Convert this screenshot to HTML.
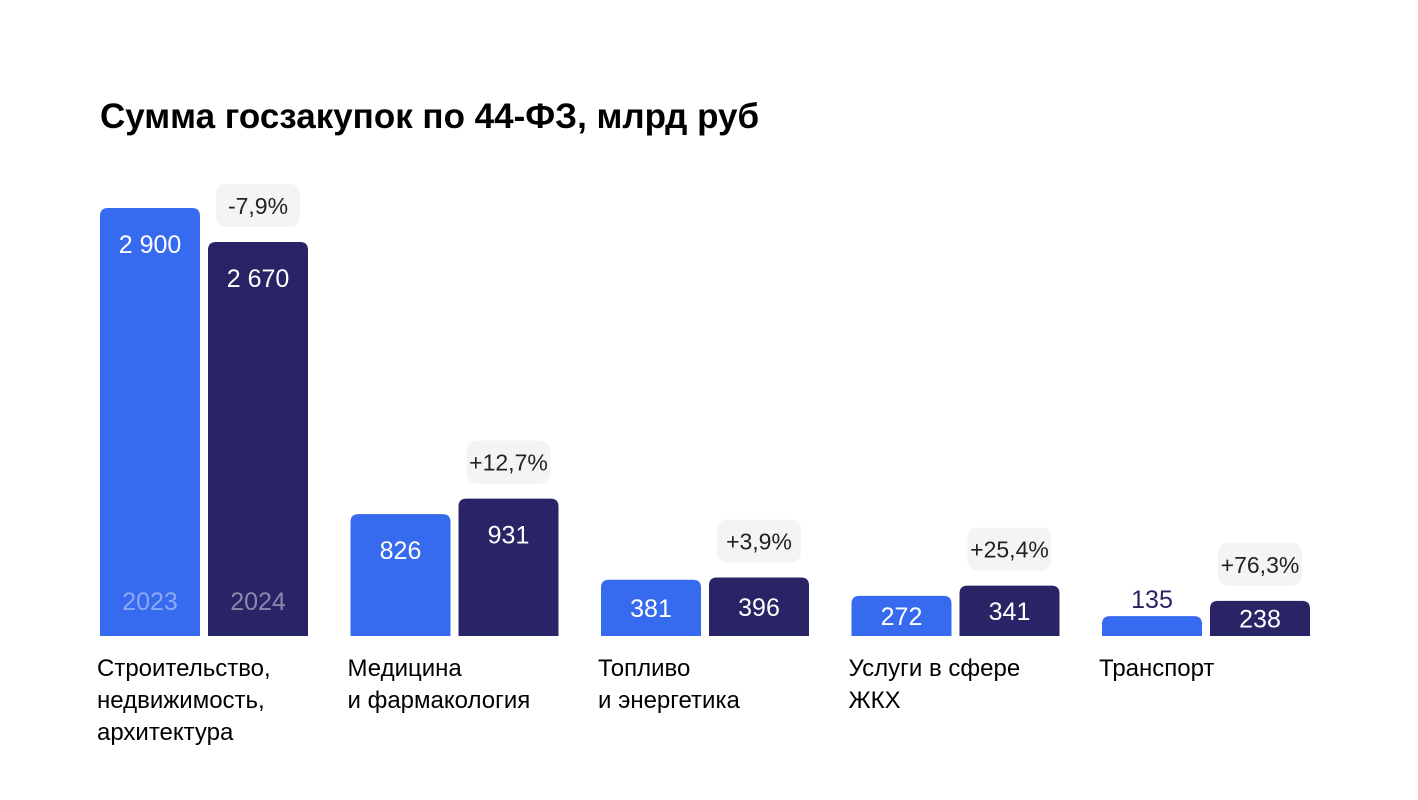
<!DOCTYPE html>
<html><head><meta charset="utf-8"><style>
body{margin:0;background:#fff;}
svg{display:block;font-family:"Liberation Sans","DejaVu Sans",sans-serif;}
</style></head><body>
<svg id="chart" width="1418" height="800" viewBox="0 0 1418 800">
<text x="100" y="128" font-size="35" font-weight="bold" fill="#000">Сумма госзакупок по 44-ФЗ, млрд руб</text>
<g id="bars"></g>
</svg>
<script>
const categories = [["Строительство,","недвижимость,","архитектура"],["Медицина","и фармакология"],["Топливо","и энергетика"],["Услуги в сфере","ЖКХ"],["Транспорт"]];
const values2023 = [2900, 826, 381, 272, 135];
const values2024 = [2670, 931, 396, 341, 238];
const changes = ["-7,9%","+12,7%","+3,9%","+25,4%","+76,3%"];
const valueLabels2023 = ["2 900","826","381","272","135"];
const valueLabels2024 = ["2 670","931","396","341","238"];

const baseY = 636, maxPx = 428, maxVal = 2900;
function y(v){ return baseY - v / maxVal * maxPx; }
function gx(i){ return 100 + i * 250.5; }
const NS = "http://www.w3.org/2000/svg";
const g = document.getElementById("bars");
function mk(tag, attrs, txt){
  const e = document.createElementNS(NS, tag);
  for (const k in attrs) e.setAttribute(k, attrs[k]);
  if (txt !== undefined) e.textContent = txt;
  g.appendChild(e); return e;
}
function bar(x, v, color, label, i, year){
  const top = y(v), h = baseY - top;
  const p = mk("path", {d:`M${x},${baseY} V${top+8} Q${x},${top} ${x+8},${top} H${x+92} Q${x+100},${top} ${x+100},${top+8} V${baseY} Z`, fill:color});
  
  
  let ty, fill = "#fff";
  if (h > 60) ty = top + 45;
  else if (h >= 30) ty = top + h/2 + 9;
  else { ty = top - 8; fill = "#282463"; }
  const t = mk("text", {x:x+50, y:ty, "text-anchor":"middle", "font-size":"25", fill:fill}, label);
  
  
}
for (let i = 0; i < categories.length; i++){
  const x0 = gx(i), x1 = x0 + 108;
  bar(x0, values2023[i], "#366bf0", valueLabels2023[i], i, "2023");
  bar(x1, values2024[i], "#282466", valueLabels2024[i], i, "2024");
  const bt = y(values2024[i]) - 58;
  const r = mk("rect", {x:x1+8, y:bt, width:84, height:43, rx:10, fill:"#f4f4f4"});
  
  
  const ct = mk("text", {x:x1+50, y:bt+30, "text-anchor":"middle", "font-size":"23", fill:"#222"}, changes[i]);
  
  
  categories[i].forEach((line, j) => {
    const c = mk("text", {x:x0-3, y:676 + j*32, "font-size":"24", fill:"#000"}, line);
    
    
  });
}
const y1 = mk("text", {x:150, y:610, "text-anchor":"middle", "font-size":"25", fill:"#8fa8f5"}, "2023");


const y2 = mk("text", {x:258, y:610, "text-anchor":"middle", "font-size":"25", fill:"#8a88ab"}, "2024");


</script>
</body></html>
